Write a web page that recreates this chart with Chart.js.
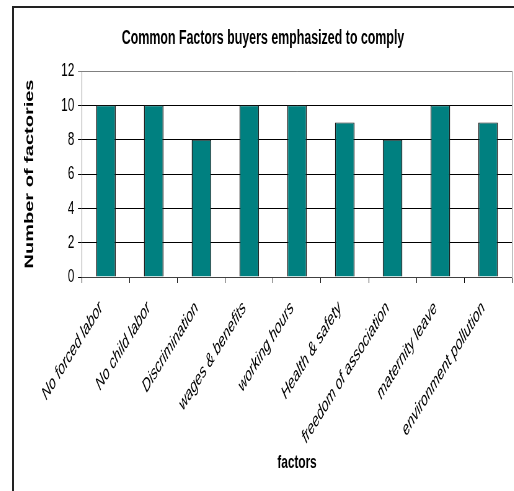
<!DOCTYPE html>
<html>
<head>
<meta charset="utf-8">
<script src="https://cdn.jsdelivr.net/npm/chart.js@4/dist/chart.umd.min.js"></script>
<style>
  html, body { margin: 0; padding: 0; background: #fff; overflow: hidden; }
  body { width: 514px; height: 491px; position: relative; }
  #frame {
    position: absolute; left: 12px; top: 6px;
    width: 504px; height: 487px;
    border-left: 2px solid #222; border-top: 2px solid #222;
    overflow: hidden;
  }
  /* chart drawn wide, then squeezed horizontally */
  #wrap { width: 806px; height: 483px; transform: scaleX(0.62); transform-origin: 0 0; }
</style>
</head>
<body>
<div id="frame"><div id="wrap"><canvas id="c"></canvas></div></div>
<script>
const categories = [
  'No forced labor', 'No child labor', 'Discrimination', 'wages & benefits',
  'working hours', 'Health & safety', 'freedom of association',
  'maternity leave', 'environment pollution'
];
const factoryCounts = [10, 10, 8, 10, 10, 9, 8, 10, 9];
const yTicks = [0, 2, 4, 6, 8, 10, 12];

const FONT = 'Arial, "Liberation Sans", sans-serif';

new Chart(document.getElementById('c'), {
  type: 'bar',
  data: {
    labels: categories,
    datasets: [{
      data: factoryCounts,
      backgroundColor: '#008080',
      borderColor: '#1a1a1a',
      borderWidth: { top: 1, left: 1.6, right: 1.6, bottom: 0 },
      barPercentage: 0.41,
      categoryPercentage: 1
    }]
  },
  options: {
    responsive: true,
    maintainAspectRatio: false,
    animation: false,
    layout: { padding: { left: 0, right: 2.8, top: 0, bottom: 0 } },
    plugins: {
      legend: { display: false },
      tooltip: { enabled: false },
      title: {
        display: true,
        text: 'Common Factors buyers emphasized to comply',
        color: '#000',
        font: { family: FONT, size: 20, weight: 'bold' },
        padding: { top: 18, bottom: 21 }
      }
    },
    scales: {
      x: {
        grid: {
          drawOnChartArea: false,
          drawTicks: true,
          tickLength: 6,
          color: '#000',
          offset: true
        },
        border: { display: true, color: '#404040', width: 1 },
        ticks: {
          autoSkip: false,
          maxRotation: 45,
          minRotation: 45,
          padding: 14,
          labelOffset: -8,
          color: '#000',
          font: { family: FONT, size: 19, style: 'italic' }
        },
        title: {
          display: true,
          text: 'factors',
          color: '#000',
          font: { family: FONT, size: 19, weight: 'bold' },
          padding: { top: 0, bottom: 16.6 }
        },
        afterFit: s => { s.height = 214; }
      },
      y: {
        min: 0,
        max: 12,
        afterBuildTicks: s => { s.ticks = yTicks.map(v => ({ value: v })); },
        grid: {
          color: c => (c.tick && c.tick.value === 12 ? '#808080' : '#000'),
          tickLength: 6.5,
          drawTicks: true
        },
        border: { display: true, color: '#808080', width: 1 },
        ticks: {
          padding: 6,
          color: '#000',
          font: { family: FONT, size: 19 }
        },
        title: {
          display: true,
          text: 'Number of factories',
          color: '#000',
          font: { family: FONT, size: 20, weight: 'bold' },
          padding: { top: 13, bottom: 0 }
        },
        afterFit: s => { s.width = 109.7; }
      },
      frameRight: {
        position: 'right',
        min: 0,
        max: 12,
        grid: { drawOnChartArea: false, drawTicks: false },
        border: { display: true, color: '#808080', width: 1 },
        ticks: { display: false },
        afterFit: s => { s.width = 0; }
      }
    }
  }
});
</script>
</body>
</html>
